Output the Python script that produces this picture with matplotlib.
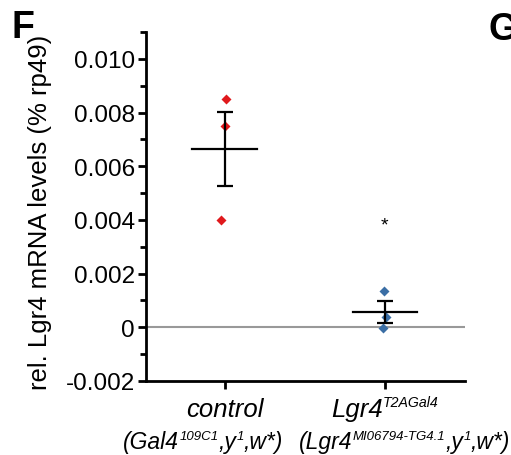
import numpy as np
import matplotlib
matplotlib.use("Agg")
import matplotlib.pyplot as plt

plt.rcParams["font.family"] = ["Liberation Sans", "DejaVu Sans"]

# data
groups = ["control", "Lgr4"]
control_vals = [0.0085, 0.0075, 0.0040]
control_jitter = [0.01, 0.005, -0.02]
mutant_vals = [0.00135, 0.0004, -0.00002]
mutant_jitter = [-0.005, 0.005, -0.01]
means = [0.00665, 0.00057]
sems = [0.00137, 0.00041]
star_y = 0.0038

yticks = [-0.002, 0, 0.002, 0.004, 0.006, 0.008, 0.010]
ytick_labels = ["-0.002", "0", "0.002", "0.004", "0.006", "0.008", "0.010"]
# (text, is_superscript) pieces for the genotype labels
line1 = [[("control", 0)],
         [("Lgr4", 0), ("T2AGal4", 1)]]
line2 = [[("(Gal4", 0), ("109C1", 1), (",y", 0), ("1", 1), (",w*)", 0)],
         [("(Lgr4", 0), ("MI06794-TG4.1", 1), (",y", 0), ("1", 1), (",w*)", 0)]]


def draw_rich(fig, x_px, y_px, pieces, size, ha="center", sup_scale=0.58):
    """
    Draws italic text pieces with superscripts, baseline at y_px (from top)
    """
    renderer = fig.canvas.get_renderer()
    W = fig.bbox.width
    H = fig.bbox.height
    sup_size = size * sup_scale
    rise = size * fig.dpi / 72 * 0.38

    # measure
    widths = []
    for txt, sup in pieces:
        t = fig.text(0, 0, txt, fontsize=sup_size if sup else size, style="italic")
        widths.append(t.get_window_extent(renderer).width)
        t.remove()
    total = sum(widths)
    if ha == "center":
        x = x_px - total / 2
    elif ha == "right":
        x = x_px - total
    else:
        x = x_px

    for (txt, sup), w in zip(pieces, widths):
        y = (H - y_px) + (rise if sup else 0)
        fig.text(x / W, y / H, txt, fontsize=sup_size if sup else size,
                 style="italic", ha="left", va="baseline")
        x += w


fig = plt.figure(figsize=(5.11, 4.56), dpi=100)
ax = fig.add_axes([0.2857, 0.1623, 0.6243, 0.7653])

# zero line
ax.axhline(0, color="#999999", lw=1.5, zorder=1)

# points
ax.plot(np.array(control_jitter) + 0, control_vals, "D", color="#e0191c",
        ms=5.5, mec="none", zorder=2)
ax.plot(np.array(mutant_jitter) + 1, mutant_vals, "D", color="#3a6ea5",
        ms=5.5, mec="none", zorder=2)

# mean and sem
for i in range(2):
    ax.plot([i - 0.2, i + 0.2], [means[i], means[i]], color="black", lw=1.6, zorder=3)
    ax.errorbar(i, means[i], yerr=sems[i], fmt="none", ecolor="black",
                elinewidth=1.6, capsize=6, capthick=1.6, zorder=3)

ax.text(1, star_y, "*", ha="center", va="center", fontsize=14)

ax.set_xlim(-0.49, 1.5)
ax.set_ylim(-0.002, 0.011)
ax.set_yticks(yticks)
ax.set_yticklabels(ytick_labels, fontsize=17.5)
ax.set_yticks(np.arange(-0.001, 0.0111, 0.002), minor=True)
ax.set_xticks([0, 1])
ax.set_xticklabels([])
ax.tick_params(axis="both", which="major", direction="out", length=6, width=2, pad=2)
ax.tick_params(axis="y", which="minor", direction="out", length=4, width=2)

for s in ["top", "right"]:
    ax.spines[s].set_visible(False)
for s in ["left", "bottom"]:
    ax.spines[s].set_linewidth(2)

fig.text(40 / 511, 0.535, "rel. Lgr4 mRNA levels (% rp49)", rotation=90,
         ha="center", va="center", fontsize=18.5)

# x category labels, positions from the tick locations
tick_px = ax.transData.transform([(0, 0), (1, 0)])[:, 0]
draw_rich(fig, tick_px[0], 417, line1[0], 18.5)
draw_rich(fig, tick_px[1], 417, line1[1], 18.5, sup_scale=0.55)
draw_rich(fig, 283, 449, line2[0], 16.5, ha="right")
draw_rich(fig, 510, 449, line2[1], 16.5, ha="right")

fig.text(0.022, 1 - 38 / 456, "F", fontsize=27, fontweight="bold", va="baseline")
fig.text(0.955, 1 - 40 / 456, "G", fontsize=27, fontweight="bold", va="baseline")

fig.savefig("out.png", dpi=100)
